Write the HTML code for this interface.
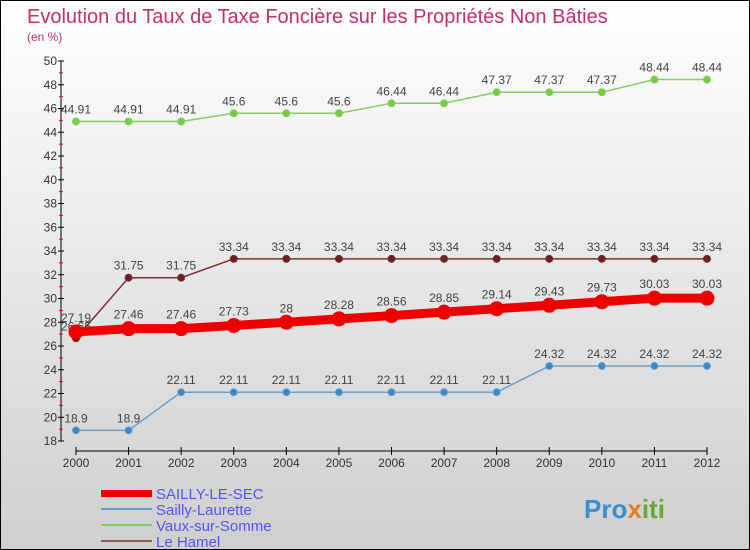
<!DOCTYPE html>
<html><head><meta charset="utf-8"><style>
body{margin:0}
#wrap{position:relative;width:750px;height:550px;box-sizing:border-box;border:1px solid #000;background:linear-gradient(#ffffff,#cfcfcf);font-family:"Liberation Sans",sans-serif;overflow:hidden}
svg{position:absolute;left:0;top:0}
</style></head><body>
<div id="wrap">
<svg id="c" width="750" height="550">
<text x="26" y="22" font-size="20" fill="#c0306a">Evolution du Taux de Taxe Foncière sur les Propriétés Non Bâties</text>
<text x="26" y="40" font-size="12" fill="#c0306a">(en %)</text>
<text x="155" y="498" font-size="15" fill="#5555ee">SAILLY-LE-SEC</text>
<text x="155" y="514" font-size="15" fill="#5555ee">Sailly-Laurette</text>
<text x="155" y="530" font-size="15" fill="#5555ee">Vaux-sur-Somme</text>
<text x="155" y="546" font-size="15" fill="#5555ee">Le Hamel</text>
<rect x="100" y="489" width="51" height="7" fill="#ee0000"/>
<rect x="100" y="507" width="51" height="2" fill="#6aa0cc"/>
<rect x="100" y="523" width="51" height="2" fill="#88cc66"/>
<rect x="100" y="539" width="51" height="2" fill="#8a5a5a"/>
<text x="583" y="517" font-size="26" font-weight="bold" fill="#3a8fd0">Pro<tspan fill="#e08020">x</tspan><tspan fill="#66aa33">iti</tspan></text>
</svg>
</div>
<script>
const years=["2000","2001","2002","2003","2004","2005","2006","2007","2008","2009","2010","2011","2012"];
const sailly=[27.19,27.46,27.46,27.73,28,28.28,28.56,28.85,29.14,29.43,29.73,30.03,30.03];
const laurette=[18.9,18.9,22.11,22.11,22.11,22.11,22.11,22.11,22.11,24.32,24.32,24.32,24.32];
const vaux=[44.91,44.91,44.91,45.6,45.6,45.6,46.44,46.44,47.37,47.37,47.37,48.44,48.44];
const hamel=[26.65,31.75,31.75,33.34,33.34,33.34,33.34,33.34,33.34,33.34,33.34,33.34,33.34];
const yTicks=[18,20,22,24,26,28,30,32,34,36,38,40,42,44,46,48,50];
const svg=document.getElementById('c'),NS='http://www.w3.org/2000/svg';
const X=i=>75+i*(706-75)/(years.length-1);
const Y=v=>440-(v-18)*(380/32);
function mk(t,a){const e=document.createElementNS(NS,t);for(const k in a)e.setAttribute(k,a[k]);svg.appendChild(e);return e;}
let e=mk('line',{x1:60,y1:60,x2:60,y2:440,stroke:'#000'});


yTicks.forEach(v=>{
 let t=mk('line',{x1:57,x2:63,y1:Y(v),y2:Y(v),stroke:'#000'});
 
 
 let r=mk('line',{x1:58,x2:62,y1:Y(v+1),y2:Y(v+1),stroke:'#e00'});
 if(v==50)r.remove();
 
 
 let l=mk('text',{x:56,y:Y(v)+4,'font-size':12,'text-anchor':'end',fill:'#333'});l.textContent=v;
 
 
});
e=mk('line',{x1:75,y1:450,x2:706,y2:450,stroke:'#000'});


years.forEach((y,i)=>{
 let t=mk('line',{x1:X(i),x2:X(i),y1:446,y2:454,stroke:'#000'});
 
 
 let l=mk('text',{x:X(i),y:466,'font-size':12,'text-anchor':'middle',fill:'#333'});l.textContent=y;
 
 
});
function series(d,col,w,r,name,dot){
 let p=mk('polyline',{points:d.map((v,i)=>X(i)+','+Y(v)).join(' '),fill:'none',stroke:col,'stroke-width':w});
 
 
 d.forEach((v,i)=>{
  let c=mk('circle',{cx:X(i),cy:Y(v),r:r,fill:dot,stroke:col});
  
  
  let l=mk('text',{x:X(i),y:Y(v)-8-(r>5?2:0),'font-size':12,'text-anchor':'middle',fill:'#444'});
  l.textContent=v;
  
  
 });
}
series(vaux,'#88cc66',1.5,3.5,'vaux-sur-somme','#77cc44');
series(hamel,'#7a3030',1.5,3.5,'le-hamel','#6a2020');
series(laurette,'#6aa0cc',1.5,3.5,'sailly-laurette','#3a88c8');
series(sailly,'#ee0000',9,7,'sailly-le-sec','#ee0000');
</script>
</body></html>
